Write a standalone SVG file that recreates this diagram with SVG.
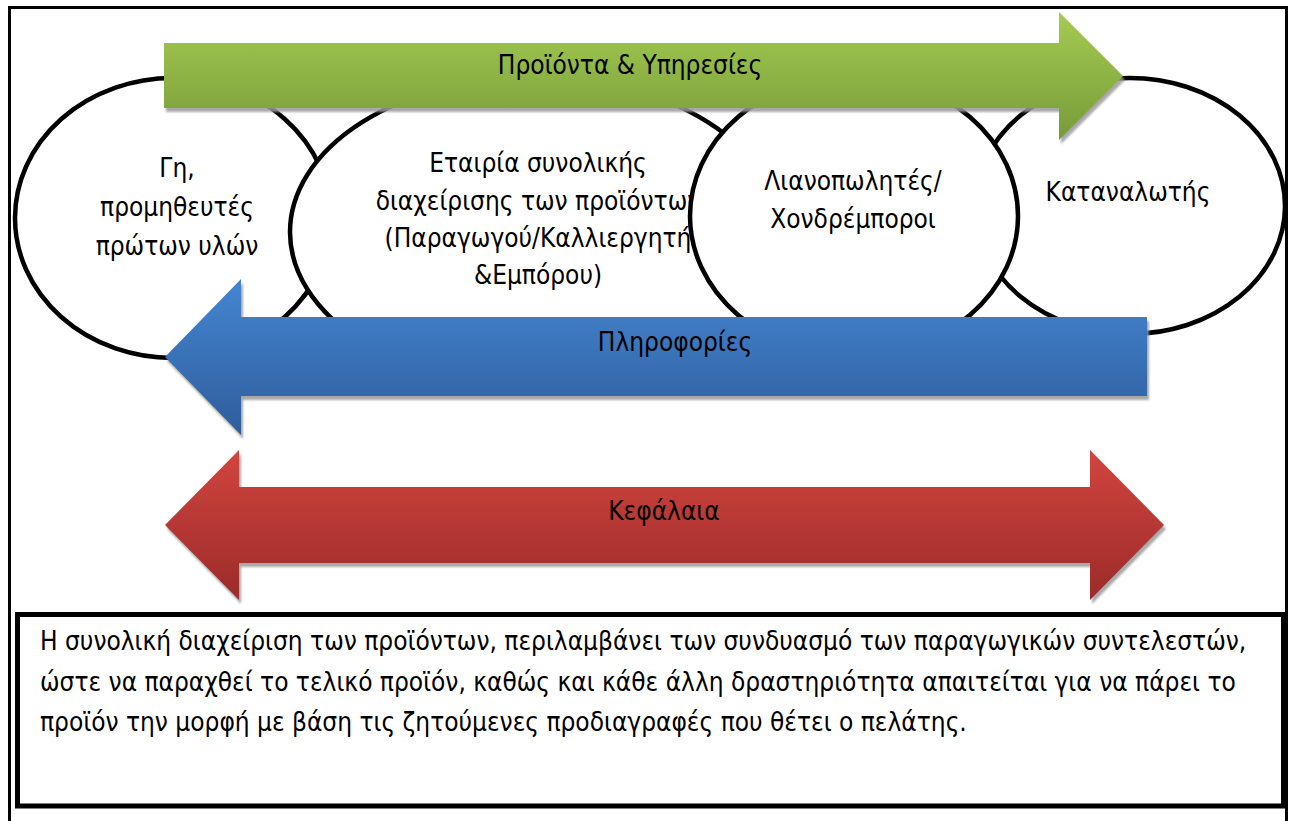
<svg xmlns="http://www.w3.org/2000/svg" width="1294" height="821" viewBox="0 0 1294 821">
  <defs>
    <linearGradient id="gGreen" x1="0" y1="0" x2="0" y2="1">
      <stop offset="0" stop-color="#a4cc51"/>
      <stop offset="1" stop-color="#779a39"/>
    </linearGradient>
    <linearGradient id="gBlue" x1="0" y1="0" x2="0" y2="1">
      <stop offset="0" stop-color="#4486d2"/>
      <stop offset="1" stop-color="#2f5d9b"/>
    </linearGradient>
    <linearGradient id="gRed" x1="0" y1="0" x2="0" y2="1">
      <stop offset="0" stop-color="#d2453f"/>
      <stop offset="1" stop-color="#9b2b29"/>
    </linearGradient>
    <filter id="soft" x="-5%" y="-20%" width="110%" height="140%">
      <feGaussianBlur stdDeviation="0.8"/>
    </filter>
  </defs>
  <style>
    .frame { fill: #ffffff; stroke: #000000; stroke-width: 3; }
    .box { fill: #ffffff; stroke: #000000; stroke-width: 5; }
    .node { fill: #ffffff; stroke: #000000; stroke-width: 4.5; }
    .lbl { font-family: "DejaVu Sans Condensed", "DejaVu Sans", sans-serif; font-stretch: condensed; font-size: 26px; fill: #000000; text-anchor: middle; }
    .body { font-family: "DejaVu Sans Condensed", "DejaVu Sans", sans-serif; font-stretch: condensed; font-size: 26px; fill: #000000; }
    .shadow { fill: #9a9a9a; opacity: 0.85; filter: url(#soft); }
  </style>

  <!-- outer page frame -->
  <rect class="frame" x="9.5" y="7.5" width="1277" height="830"/>

  <!-- supply-chain stages -->
  <g id="node-supplier">
    <ellipse class="node" cx="173" cy="218" rx="158" ry="140"/>
    <text class="lbl" x="177" y="177">Γη,</text>
    <text class="lbl" x="177" y="216">προμηθευτές</text>
    <text class="lbl" x="177" y="255">πρώτων υλών</text>
  </g>
  <g id="node-company">
    <ellipse class="node" cx="535" cy="232" rx="245" ry="155"/>
    <text class="lbl" x="538" y="172">Εταιρία συνολικής</text>
    <text class="lbl" x="538" y="210">διαχείρισης των προϊόντων</text>
    <text class="lbl" x="538" y="247">(Παραγωγού/Καλλιεργητή</text>
    <text class="lbl" x="538" y="284">&amp;Εμπόρου)</text>
  </g>
  <g id="node-consumer">
    <ellipse class="node" cx="1130" cy="206" rx="155" ry="128"/>
    <text class="lbl" x="1128" y="201">Καταναλωτής</text>
  </g>
  <g id="node-retail">
    <ellipse class="node" cx="854" cy="216" rx="164" ry="140"/>
    <text class="lbl" x="853" y="190">Λιανοπωλητές/</text>
    <text class="lbl" x="853" y="228">Χονδρέμποροι</text>
  </g>

  <!-- flows between the stages -->
  <g id="flows">
    <g id="flow-products">
      <path class="shadow" transform="translate(2,4)" d="M164,43 H1059 V12 L1123,76 L1059,140 V108 H164 Z"/>
      <path fill="url(#gGreen)" d="M164,43 H1059 V12 L1123,76 L1059,140 V108 H164 Z"/>
      <text class="lbl" x="630" y="74">Προϊόντα &amp; Υπηρεσίες</text>
    </g>
    <g id="flow-information">
      <path class="shadow" transform="translate(2,4)" d="M165,357 L241,279 V317 H1147 V396 H241 V435 Z"/>
      <path fill="url(#gBlue)" d="M165,357 L241,279 V317 H1147 V396 H241 V435 Z"/>
      <text class="lbl" x="675" y="351">Πληροφορίες</text>
    </g>
    <g id="flow-capital">
      <path class="shadow" transform="translate(2,4)" d="M165,525 L239,450 V487 H1090 V450 L1164,525 L1090,600 V563 H239 V600 Z"/>
      <path fill="url(#gRed)" d="M165,525 L239,450 V487 H1090 V450 L1164,525 L1090,600 V563 H239 V600 Z"/>
      <text class="lbl" x="664" y="520">Κεφάλαια</text>
    </g>
  </g>

  <!-- explanatory note -->
  <g id="note">
    <rect class="box" x="17.5" y="614.5" width="1266" height="191.5"/>
    <text class="body" x="40" y="650">Η συνολική διαχείριση των προϊόντων, περιλαμβάνει των συνδυασμό των παραγωγικών συντελεστών,</text>
    <text class="body" x="40" y="691">ώστε να παραχθεί το τελικό προϊόν, καθώς και κάθε άλλη δραστηριότητα απαιτείται για να πάρει το</text>
    <text class="body" x="40" y="731">προϊόν την μορφή με βάση τις ζητούμενες προδιαγραφές που θέτει ο πελάτης.</text>
  </g>
</svg>
